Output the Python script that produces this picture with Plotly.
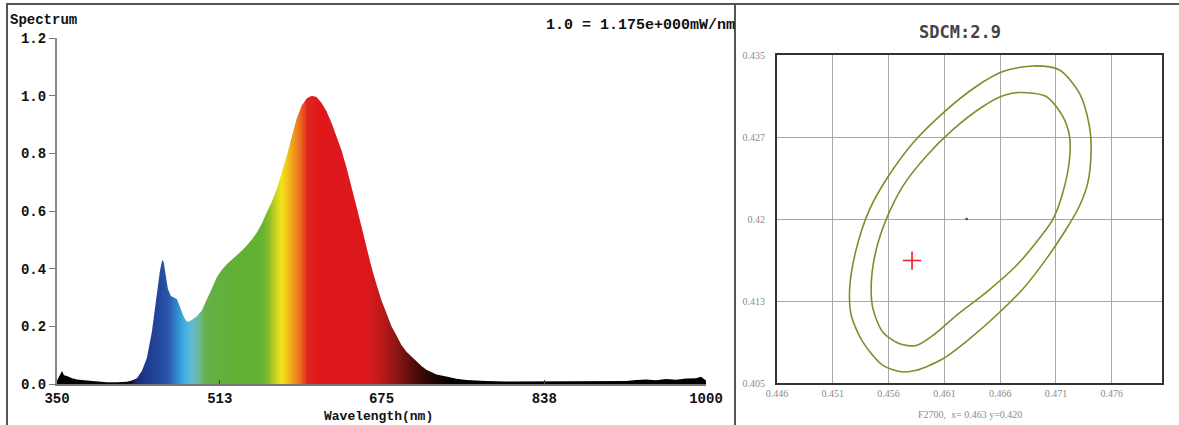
import plotly.graph_objects as go

# ---------------- data ----------------
wavelength_nm = [350, 353, 355, 357, 360, 365, 370, 380, 390, 400, 410, 420, 425, 430, 435,
                 440, 445, 448, 451, 453, 455, 456, 457, 459, 461, 464, 467, 470, 473, 476,
                 479, 481, 485, 490, 495, 500, 505, 510, 515, 520, 525, 530, 535, 540, 545,
                 550, 555, 560, 565, 570, 575, 580, 585, 590, 595, 600, 605, 610, 615, 620,
                 625, 630, 635, 640, 645, 650, 655, 660, 665, 670, 675, 680, 685, 690, 695,
                 700, 705, 710, 715, 720, 725, 730, 740, 750, 760, 770, 780, 800, 820, 840,
                 860, 880, 900, 920, 930, 940, 950, 960, 970, 980, 990, 995, 1000]
relative_power = [0.012, 0.035, 0.045, 0.030, 0.028, 0.020, 0.016, 0.012, 0.008, 0.006, 0.006,
                  0.008, 0.012, 0.020, 0.045, 0.090, 0.180, 0.260, 0.340, 0.390, 0.425, 0.430,
                  0.420, 0.370, 0.330, 0.305, 0.300, 0.295, 0.270, 0.240, 0.220, 0.215, 0.222,
                  0.235, 0.255, 0.290, 0.330, 0.370, 0.395, 0.415, 0.430, 0.445, 0.462, 0.480,
                  0.500, 0.525, 0.555, 0.595, 0.630, 0.675, 0.730, 0.790, 0.855, 0.920, 0.965,
                  0.990, 1.000, 0.995, 0.975, 0.945, 0.905, 0.860, 0.810, 0.750, 0.685, 0.615,
                  0.545, 0.470, 0.405, 0.345, 0.290, 0.245, 0.200, 0.168, 0.135, 0.112, 0.095,
                  0.078, 0.062, 0.049, 0.040, 0.033, 0.026, 0.018, 0.014, 0.011, 0.010, 0.009,
                  0.009, 0.008, 0.009, 0.008, 0.009, 0.010, 0.014, 0.016, 0.013, 0.017, 0.015,
                  0.019, 0.020, 0.025, 0.012]
spectrum_ticks = [350, 513, 675, 838, 1000]
power_ticks = [0.0, 0.2, 0.4, 0.6, 0.8, 1.0, 1.2]
power_tick_text = ["0.0", "0.2", "0.4", "0.6", "0.8", "1.0", "1.2"]

# colour of the spectrum fill by wavelength (nm, colour)
spectrum_colours = [(350, "#000000"), (424, "#0a0a1a"), (430, "#1a2a70"), (440, "#1f3a8f"),
                    (452, "#23479c"), (462, "#2a58aa"), (469, "#2f80c8"), (476, "#3aa8e0"),
                    (484, "#5bbad8"), (492, "#6cb9a0"), (500, "#63b045"), (530, "#60b034"),
                    (556, "#66b232"), (562, "#86bc2a"), (568, "#bccf20"), (575, "#f2e41a"),
                    (581, "#f3c21a"), (588, "#ef941c"), (595, "#e9601e"), (601, "#e0231f"),
                    (612, "#e0181c"), (660, "#dc181c"), (672, "#c41a1a"), (684, "#a21616"),
                    (696, "#7a1212"), (710, "#4a0a0a"), (728, "#1e0404"), (745, "#000000"),
                    (1000, "#000000")]

# chromaticity panel
cie_x_ticks = [0.446, 0.451, 0.456, 0.461, 0.466, 0.471, 0.476]
cie_x_tick_text = ["0.446", "0.451", "0.456", "0.461", "0.466", "0.471", "0.476"]
cie_y_ticks = [0.405, 0.4125, 0.420, 0.4275, 0.435]
cie_y_tick_text = ["0.405", "0.413", "0.42", "0.427", "0.435"]

outer_ellipse_x = [0.46893, 0.47131, 0.47310, 0.47400, 0.47415, 0.47385, 0.47310, 0.47191,
                   0.47012, 0.46803, 0.46564, 0.46325, 0.46087, 0.45848, 0.45728, 0.45549,
                   0.45370, 0.45266, 0.45251, 0.45310, 0.45430, 0.45579, 0.45818, 0.46087,
                   0.46385, 0.46624, 0.46893]
outer_ellipse_y = [0.43400, 0.43363, 0.43151, 0.42847, 0.42635, 0.42331, 0.42119, 0.41906,
                   0.41633, 0.41360, 0.41117, 0.40904, 0.40722, 0.40616, 0.40601, 0.40661,
                   0.40874, 0.41117, 0.41360, 0.41724, 0.42088, 0.42361, 0.42695, 0.42969,
                   0.43212, 0.43348, 0.43400]
inner_ellipse_x = [0.46773, 0.47012, 0.47161, 0.47221, 0.47221, 0.47161, 0.47072, 0.46922,
                   0.46743, 0.46475, 0.46206, 0.45997, 0.45848, 0.45698, 0.45549, 0.45460,
                   0.45445, 0.45490, 0.45579, 0.45728, 0.45937, 0.46176, 0.46445, 0.46624,
                   0.46773]
inner_ellipse_y = [0.43157, 0.43120, 0.42938, 0.42756, 0.42544, 0.42240, 0.41997, 0.41785,
                   0.41572, 0.41329, 0.41117, 0.40935, 0.40843, 0.40859, 0.40965, 0.41178,
                   0.41420, 0.41724, 0.41997, 0.42301, 0.42574, 0.42817, 0.43029, 0.43127,
                   0.43157]
measured_point = (0.4581, 0.4162)
ellipse_centre = (0.463, 0.420)

W, H = 1179, 425


def px(x):
    return x / W


def py(y):
    return 1 - y / H


fig = go.Figure()

# ---- spectrum: colour gradient masked above the curve ----
lo, hi = wavelength_nm[0], wavelength_nm[-1]
grad_x = list(range(lo, hi + 1))
colorscale = [[(w - lo) / (hi - lo), c] for w, c in spectrum_colours]
fig.add_trace(go.Heatmap(x=grad_x, y=[0, 1.25], z=[grad_x, grad_x], colorscale=colorscale,
                         zmin=lo, zmax=hi, showscale=False, hoverinfo="skip",
                         xaxis="x", yaxis="y"))
fig.add_trace(go.Scatter(x=wavelength_nm + [hi, lo], y=relative_power + [1.3, 1.3],
                         fill="toself", fillcolor="white", mode="lines",
                         line=dict(width=0, color="white"), hoverinfo="skip",
                         showlegend=False, xaxis="x", yaxis="y"))

# ---- chromaticity panel ----
for ex, ey in ((outer_ellipse_x, outer_ellipse_y), (inner_ellipse_x, inner_ellipse_y)):
    fig.add_trace(go.Scatter(x=ex, y=ey, mode="lines",
                             line=dict(color="#7f8e2a", width=1.6, shape="spline", smoothing=0.8),
                             showlegend=False, xaxis="x2", yaxis="y2"))
fig.add_trace(go.Scatter(x=[measured_point[0]], y=[measured_point[1]], mode="markers",
                         marker=dict(symbol="cross-thin", size=13,
                                     line=dict(color="#e8202a", width=1.6)),
                         showlegend=False, xaxis="x2", yaxis="y2"))
fig.add_trace(go.Scatter(x=[ellipse_centre[0]], y=[ellipse_centre[1]], mode="markers",
                         marker=dict(size=2.5, color="#444"),
                         showlegend=False, xaxis="x2", yaxis="y2"))

mono = "Liberation Mono"
mono_font = dict(family=mono, size=15, color="#111", weight="bold")
tick_font = dict(family=mono, size=14, color="#111", weight="bold")
serif_small = dict(family="Liberation Serif", size=10, color="#8a8a8a")

fig.update_layout(
    template="none",
    width=W, height=H, autosize=False,
    margin=dict(l=0, r=0, t=0, b=0, pad=0),
    paper_bgcolor="white", plot_bgcolor="white",
    showlegend=False,
    xaxis=dict(domain=[px(57), px(706)], range=[lo, hi], tickvals=spectrum_ticks,
               ticks="inside", ticklen=4, tickcolor="#444", showline=True,
               linecolor="#777", linewidth=1.5, showgrid=False, zeroline=False,
               tickfont=tick_font, anchor="y", automargin=False),
    yaxis=dict(domain=[py(384), py(38)], range=[0, 1.2], tickvals=power_ticks,
               ticktext=power_tick_text, ticks="outside", ticklen=6, tickcolor="#777",
               showline=True, linecolor="#8a8a8a", linewidth=2, showgrid=False,
               zeroline=False, tickfont=tick_font, anchor="x", automargin=False),
    xaxis2=dict(domain=[px(777), px(1162)], range=[0.446, 0.4805], tickvals=cie_x_ticks,
                ticktext=cie_x_tick_text, showgrid=True, gridcolor="#a8a8a8", gridwidth=1,
                showline=True, mirror=True, linecolor="#333", linewidth=2, zeroline=False,
                ticks="", tickfont=serif_small, anchor="y2", automargin=False),
    yaxis2=dict(domain=[py(383), py(55)], range=[0.405, 0.435], tickvals=cie_y_ticks,
                ticktext=cie_y_tick_text, showgrid=True, gridcolor="#a8a8a8", gridwidth=1,
                showline=True, mirror=True, linecolor="#333", linewidth=2, zeroline=False,
                ticks="", tickfont=serif_small, ticklabelstandoff=8, anchor="x2",
                automargin=False),
)

fig.add_annotation(x=px(8), y=py(20), xref="paper", yref="paper", text="Spectrum",
                   showarrow=False, xanchor="left", yanchor="middle",
                   font=dict(family=mono, size=14, color="#111", weight="bold"))
fig.add_annotation(x=px(737), y=py(25), xref="paper", yref="paper",
                   text="1.0 = 1.175e+000mW/nm", showarrow=False, xanchor="right",
                   yanchor="middle", font=mono_font)
fig.add_annotation(x=px(378), y=py(416), xref="paper", yref="paper", text="Wavelength(nm)",
                   showarrow=False, xanchor="center", yanchor="middle",
                   font=dict(family=mono, size=13, color="#111", weight="bold"))
fig.add_annotation(x=px(960), y=py(32), xref="paper", yref="paper", text="SDCM:2.9",
                   showarrow=False, xanchor="center", yanchor="middle",
                   font=dict(family="DejaVu Sans Mono", size=17, color="#444", weight="bold"))
fig.add_annotation(x=px(970), y=py(414), xref="paper", yref="paper",
                   text="F2700,  x= 0.463 y=0.420", showarrow=False, xanchor="center",
                   yanchor="middle", font=serif_small)

# panel frame lines
frame = dict(color="#555", width=2)
fig.add_shape(type="line", xref="paper", yref="paper", x0=px(6), x1=1, y0=py(4), y1=py(4), line=frame)
fig.add_shape(type="line", xref="paper", yref="paper", x0=px(7), x1=px(7), y0=0, y1=py(4), line=frame)
fig.add_shape(type="line", xref="paper", yref="paper", x0=px(735), x1=px(735), y0=0, y1=py(4), line=frame)

fig.write_html("out.html", config={"displayModeBar": False},
               post_script="document.body.style.margin='0px';document.body.style.overflow='hidden';")
